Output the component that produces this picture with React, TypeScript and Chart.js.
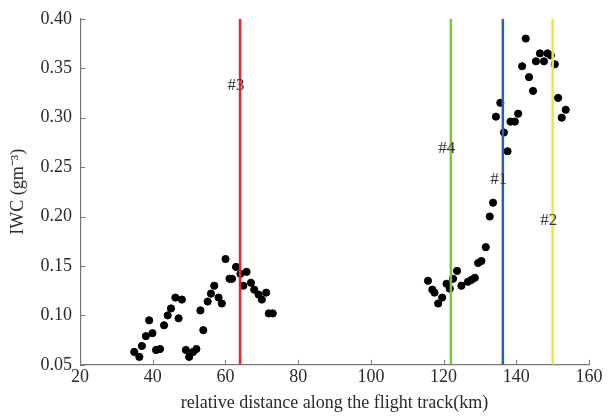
import React, { useEffect, useRef } from "react";
import { Chart, registerables } from "chart.js";

Chart.register(...registerables);

// Left cluster (km, IWC g m^-3)
const leftX = [34.9, 36.3, 37.0, 38.1, 39.0, 39.9, 40.9, 42.0, 43.1, 44.1, 45.0, 46.2, 48.0, 47.1, 49.1, 50.0, 51.1, 52.0, 53.9, 53.1, 55.1, 56.0, 56.9, 58.1, 59.0, 60.0, 61.1, 61.8, 62.9, 64.1, 65.8, 64.9, 67.0, 67.9, 69.1, 70.0, 71.2, 71.9, 73.0];
const leftY = [0.063, 0.058, 0.069, 0.079, 0.095, 0.082, 0.065, 0.066, 0.090, 0.100, 0.107, 0.118, 0.116, 0.097, 0.065, 0.058, 0.063, 0.066, 0.085, 0.105, 0.114, 0.122, 0.130, 0.118, 0.112, 0.157, 0.137, 0.137, 0.149, 0.142, 0.144, 0.130, 0.133, 0.126, 0.121, 0.116, 0.123, 0.102, 0.102];

// Right cluster
const rightX = [115.7, 116.9, 117.5, 119.6, 118.5, 120.8, 121.7, 122.6, 123.7, 124.9, 126.7, 127.7, 128.6, 129.5, 130.4, 131.6, 132.7, 133.6, 134.4, 135.6, 136.6, 137.6, 138.4, 139.6, 140.5, 141.6, 142.6, 143.5, 144.6, 145.4, 146.5, 147.6, 148.6, 149.5, 150.6, 151.5, 152.5, 153.6];
const rightY = [0.135, 0.126, 0.123, 0.118, 0.112, 0.132, 0.127, 0.137, 0.145, 0.130, 0.134, 0.136, 0.138, 0.153, 0.155, 0.169, 0.200, 0.214, 0.301, 0.315, 0.285, 0.266, 0.296, 0.296, 0.304, 0.352, 0.380, 0.341, 0.327, 0.357, 0.365, 0.357, 0.365, 0.363, 0.354, 0.320, 0.300, 0.308];

// Marker lines
const markerNames = ["#3", "#4", "#1", "#2"];
const markerX = [64, 122, 136.3, 150];
const markerLabelY = [0.333, 0.269, 0.237, 0.196];
const markerColors = ["#e8262a", "#7cc243", "#2b5fb4", "#eaea3c"];

const xTicks = [20, 40, 60, 80, 100, 120, 140, 160];
const yTicks = [0.05, 0.1, 0.15, 0.2, 0.25, 0.3, 0.35, 0.4];

const FONT = "'Liberation Serif', 'Times New Roman', serif";

export default function App() {
  const ref = useRef<HTMLCanvasElement>(null);

  useEffect(() => {
    const canvas = ref.current;
    if (!canvas) return;

    const points = [
      ...leftX.map((x, i) => ({ x, y: leftY[i] })),
      ...rightX.map((x, i) => ({ x, y: rightY[i] })),
    ];

    const lineSets = markerX.map((x, i) => ({
      type: "line" as const,
      label: markerNames[i],
      data: [
        { x, y: yTicks[0] },
        { x, y: yTicks[yTicks.length - 1] },
      ],
      borderColor: markerColors[i],
      borderWidth: 2.5,
      pointRadius: 0,
      showLine: true,
      order: 0,
    }));

    const innerTicks = {
      id: "innerTicks",
      afterDraw(chart: any) {
        const ctx = chart.ctx;
        const xs = chart.scales.x;
        const ys = chart.scales.y;
        const area = chart.chartArea;
        ctx.save();
        ctx.strokeStyle = "#777";
        ctx.lineWidth = 1;
        xTicks.forEach((v) => {
          const px = Math.round(xs.getPixelForValue(v)) + 0.5;
          ctx.beginPath();
          ctx.moveTo(px, area.bottom);
          ctx.lineTo(px, area.bottom - 5);
          ctx.stroke();
        });
        yTicks.forEach((v) => {
          const py = Math.round(ys.getPixelForValue(v)) + 0.5;
          ctx.beginPath();
          ctx.moveTo(area.left, py);
          ctx.lineTo(area.left + 5, py);
          ctx.stroke();
        });
        // marker labels
        ctx.fillStyle = "#333";
        ctx.font = "17px " + FONT;
        ctx.textAlign = "center";
        ctx.textBaseline = "middle";
        markerNames.forEach((n, i) => {
          const px = xs.getPixelForValue(markerX[i]) - 4;
          const py = ys.getPixelForValue(markerLabelY[i]);
          ctx.fillText(n, px, py);
        });
        ctx.restore();
      },
    };

    const chart = new Chart(canvas, {
      type: "scatter",
      data: {
        datasets: [
          ...lineSets,
          {
            type: "scatter" as const,
            label: "IWC",
            data: points,
            backgroundColor: "#000",
            borderColor: "#000",
            pointRadius: 3.6,
            pointHoverRadius: 3.6,
            order: 1,
          },
        ] as any,
      },
      options: {
        animation: false,
        responsive: false,
        layout: { padding: { top: 14, right: 22, left: 7, bottom: 4 } },
        plugins: {
          legend: { display: false },
          tooltip: { enabled: false },
        },
        scales: {
          x: {
            type: "linear",
            min: 20,
            max: 160,
            afterBuildTicks: (s: any) => {
              s.ticks = xTicks.map((v) => ({ value: v }));
            },
            ticks: {
              color: "#2a2a2a",
              font: { family: FONT, size: 18 },
              padding: 2,
              maxRotation: 0,
              callback: (v: any) => String(v),
            },
            grid: { display: false, drawTicks: false },
            border: { display: true, color: "#777", width: 1.2 },
            title: {
              display: true,
              text: "relative distance along the flight track(km)",
              color: "#2a2a2a",
              font: { family: FONT, size: 18 },
              padding: { top: 2, bottom: 0 },
            },
          },
          y: {
            type: "linear",
            min: 0.05,
            max: 0.4,
            afterBuildTicks: (s: any) => {
              s.ticks = yTicks.map((v) => ({ value: v }));
            },
            ticks: {
              color: "#2a2a2a",
              font: { family: FONT, size: 18 },
              padding: 8,
              callback: (v: any) => Number(v).toFixed(2),
            },
            grid: { display: false, drawTicks: false },
            border: { display: true, color: "#777", width: 1.2 },
            title: {
              display: true,
              text: "IWC (gm⁻³)",
              color: "#2a2a2a",
              font: { family: FONT, size: 18 },
              padding: { top: 0, bottom: 4 },
            },
          },
        },
      },
      plugins: [innerTicks],
    });

    return () => chart.destroy();
  }, []);

  return (
    <div style={{ position: "fixed", left: 0, top: 0, width: 611, height: 418, background: "#fff" }}>
      <canvas ref={ref} width={611} height={418} style={{ width: 611, height: 418, display: "block" }} />
    </div>
  );
}
